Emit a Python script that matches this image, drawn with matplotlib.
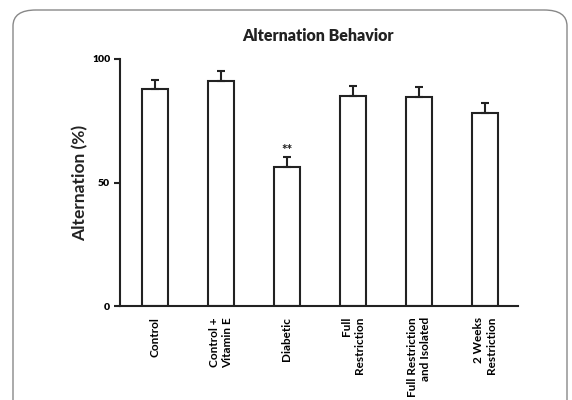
import matplotlib
matplotlib.use("Agg")
import matplotlib.pyplot as plt
from matplotlib.patches import FancyBboxPatch

categories = ["Control", "Control +\nVitamin E", "Diabetic", "Full\nRestriction",
              "Full Restriction\nand Isolated", "2 Weeks\nRestriction"]
means = [87.7, 91.0, 56.4, 85.0, 84.5, 78.3]
errors = [4.0, 4.3, 4.0, 4.0, 4.0, 3.8]
annotations = ["", "", "**", "", "", ""]
yticks = [0, 50, 100]

plt.rcParams['font.family'] = ['Lato', 'DejaVu Sans']

fig = plt.figure(figsize=(5.72, 4.0), dpi=100)
fig.patch.set_facecolor("white")

border = FancyBboxPatch((13/572, -20/400), (567-13)/572, (390+20)/400,
                        boxstyle="round,pad=0,rounding_size=0.04",
                        transform=fig.transFigure, fill=False,
                        edgecolor="#888888", linewidth=1.0)
fig.patches.append(border)

ax = fig.add_axes([120/572, 1-306/400, (518-120)/572, (306-59)/400])
x = list(range(len(categories)))
ax.bar(x, means, width=0.394, color="white", edgecolor="#222222", linewidth=1.5, zorder=2)
ax.errorbar(x, means, yerr=[[0]*len(errors), errors], fmt="none", ecolor="#222222",
            elinewidth=1.5, capsize=3, capthick=1.5, zorder=3)
for xi, m, e, a in zip(x, means, errors, annotations):
    if a:
        ax.text(xi, m + e + 0.5, a, ha="center", va="bottom", fontsize=9.5,
                fontweight="black", color="#222222")

ax.set_xlim(-0.526, 5.505)
ax.set_ylim(0, 100)
ax.spines["top"].set_visible(False)
ax.spines["right"].set_visible(False)
for s in ["left", "bottom"]:
    ax.spines[s].set_linewidth(1.5)
    ax.spines[s].set_color("#222222")
ax.set_yticks(yticks)
ax.set_yticklabels([str(t) for t in yticks], fontsize=7.5, fontweight="heavy")
ax.tick_params(axis="y", length=4, width=1.5, color="#222222", pad=3)
ax.set_xticks(x)
ax.set_xticklabels(categories, rotation=90, fontsize=8.5, fontweight="bold",
                   va="top", ha="center", multialignment="right", linespacing=1.2)
ax.tick_params(axis="x", length=0, pad=8)
ax.set_ylabel("Alternation (%)", fontsize=12.5, fontweight="bold", labelpad=3,
              color="#222222")
fig.text(318/572, 1-36/400, "Alternation Behavior", ha="center", va="center",
         fontsize=11.5, fontweight="heavy", color="#222222")

fig.savefig("out.png", dpi=100)
